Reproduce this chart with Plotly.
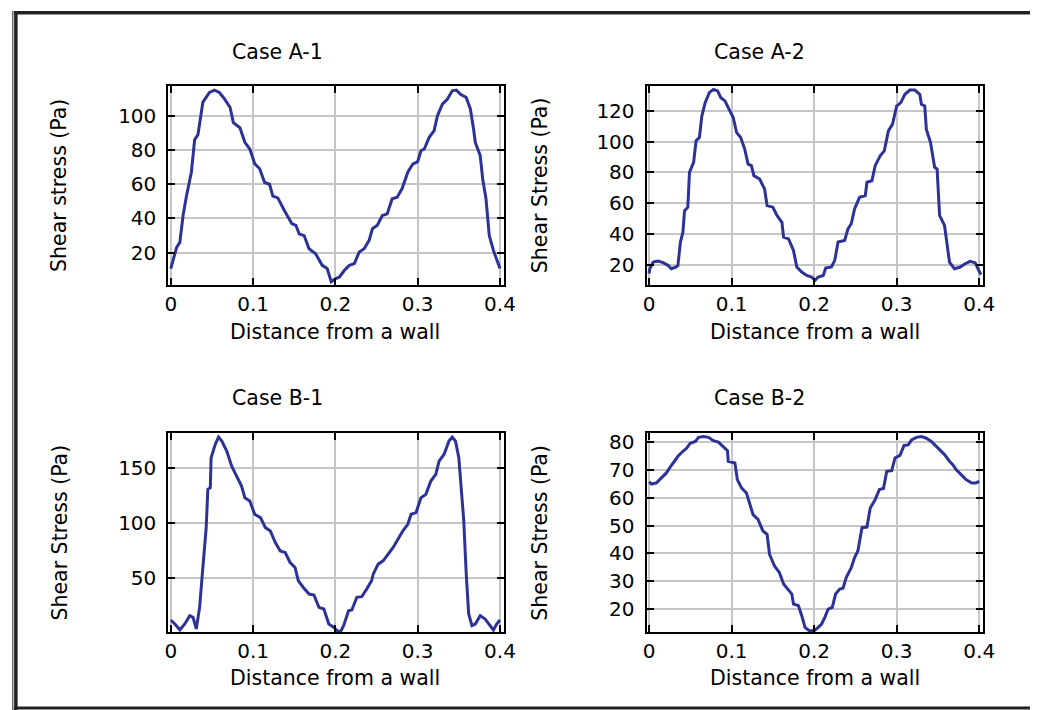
import plotly.graph_objects as go

# Figure size; the page body keeps the browser's default 8px margin.
W, H = 1038, 710
OFF = 8
# Measured mapping of page x to the captured picture: picture_x = SX * page_x + BX
SX, BX = 0.9882, 2.2

# ---------------- data ----------------
a1_x = [0, 0.003, 0.007, 0.011, 0.015, 0.019, 0.025, 0.029, 0.033, 0.039, 0.043, 0.047, 0.053, 0.059,
        0.065, 0.072, 0.076, 0.084, 0.090, 0.096, 0.102, 0.108, 0.114, 0.120, 0.124, 0.130, 0.138,
        0.147, 0.152, 0.156, 0.162, 0.168, 0.176, 0.184, 0.190, 0.195, 0.199, 0.205, 0.211, 0.217,
        0.223, 0.229, 0.235, 0.241, 0.245, 0.251, 0.257, 0.263, 0.269, 0.275, 0.281, 0.288, 0.294,
        0.300, 0.304, 0.308, 0.314, 0.320, 0.324, 0.330, 0.336, 0.342, 0.347, 0.352, 0.359, 0.364,
        0.368, 0.370, 0.376, 0.379, 0.383, 0.387, 0.392, 0.400]
a1_y = [10.7, 16.5, 23, 26, 42, 53, 67, 86, 89, 108, 111, 113.6, 115, 113.6,
        110, 105, 96, 93, 84.5, 80.6, 72, 69, 61, 60, 53, 52, 44.7,
        37, 36, 31, 30, 22.3, 19.4, 12.6, 10.7, 3, 4.5, 5.8, 9.7, 12.6,
        13.6, 20.4, 22.3, 27.2, 34, 36, 41.7, 42.7, 51.5, 52.4, 57.3, 67, 71.8,
        73.2, 79.6, 80.6, 87.4, 91.3, 100, 106.8, 109.7, 114.6, 115, 112.6, 110.7, 104,
        92, 84.5, 76.7, 63, 51.5, 30, 21.4, 10.7]

a2_x = [0, 0.001, 0.005, 0.011, 0.017, 0.023, 0.027, 0.033, 0.035, 0.038, 0.041, 0.043, 0.047, 0.049,
        0.054, 0.057, 0.061, 0.064, 0.068, 0.073, 0.078, 0.083, 0.087, 0.092, 0.097, 0.102, 0.106,
        0.111, 0.116, 0.120, 0.124, 0.127, 0.134, 0.140, 0.143, 0.150, 0.155, 0.161, 0.163, 0.169,
        0.175, 0.179, 0.185, 0.191, 0.197, 0.201, 0.205, 0.211, 0.214, 0.221, 0.225, 0.229, 0.237,
        0.241, 0.245, 0.249, 0.255, 0.262, 0.264, 0.270, 0.274, 0.280, 0.285, 0.290, 0.295, 0.300,
        0.305, 0.310, 0.316, 0.322, 0.328, 0.330, 0.334, 0.336, 0.341, 0.346, 0.349, 0.352, 0.358,
        0.364, 0.370, 0.377, 0.383, 0.389, 0.395, 0.400, 0.402]
a2_y = [14.2, 17.4, 21.7, 22.4, 21.3, 19.6, 17.4, 18.5, 19.6, 34.7, 41, 55, 57.4, 80,
        86.5, 100.6, 102.7, 116.8, 125.4, 131.9, 134, 133, 128.6, 126.5, 121, 115.7, 106,
        102.7, 95, 85.4, 84.4, 77.9, 75.7, 69.2, 58.4, 57.4, 52, 47.6, 37.9, 36.8,
        29.3, 18.5, 15.2, 13, 12, 9.8, 12, 13, 17.8, 18.5, 22.8, 34.7, 35.8,
        43.3, 46.6, 56.3, 63.8, 64.9, 73.6, 74.6, 84.4, 90.8, 94, 107, 111.4, 123.2,
        125.4, 130.8, 133.6, 133.6, 130.8, 124.3, 123.2, 108, 99.5, 83.3, 82.2, 52, 45.5,
        21.7, 17.4, 18.5, 20.6, 22.2, 21.3, 16.3, 13.5]

b1_x = [0, 0.005, 0.011, 0.017, 0.023, 0.027, 0.031, 0.035, 0.039, 0.043, 0.045, 0.048, 0.049, 0.054,
        0.058, 0.062, 0.068, 0.074, 0.078, 0.086, 0.090, 0.096, 0.102, 0.109, 0.115, 0.121, 0.127,
        0.133, 0.139, 0.145, 0.151, 0.155, 0.161, 0.168, 0.174, 0.180, 0.186, 0.192, 0.198, 0.202,
        0.206, 0.210, 0.216, 0.220, 0.226, 0.232, 0.238, 0.244, 0.246, 0.252, 0.258, 0.264, 0.270,
        0.276, 0.282, 0.288, 0.292, 0.298, 0.304, 0.310, 0.316, 0.322, 0.326, 0.332, 0.338, 0.342,
        0.346, 0.350, 0.353, 0.356, 0.359, 0.362, 0.366, 0.370, 0.376, 0.382, 0.388, 0.392, 0.396,
        0.400]
b1_y = [12.2, 8.6, 3.2, 8.6, 16.2, 14.7, 4.1, 23.7, 60, 96, 131, 132.5, 159.7, 171.8,
        178.4, 174.8, 165.7, 152.1, 146, 134, 123.4, 120.4, 108.3, 105.3, 96.2, 93.2, 82.6,
        75, 73.6, 64.5, 60, 47.9, 41.8, 35.8, 34.9, 23.7, 22.2, 8.6, 5.6, 2.6,
        1.1, 7.1, 20.7, 21.3, 32.8, 33.4, 40.3, 47.9, 53.9, 63, 66, 72, 78,
        85.6, 93.2, 99.2, 108.3, 109.8, 123.4, 126.4, 138.5, 144.6, 156.6, 162.7, 174.8, 178.4,
        174.8, 159.7, 129.5, 102.3, 54, 17.7, 7.1, 8.6, 16.2, 13.1, 7.1, 3.2, 8.6,
        12.2]

b2_x = [0, 0.003, 0.009, 0.015, 0.021, 0.025, 0.029, 0.035, 0.041, 0.045, 0.050, 0.056, 0.060, 0.066,
        0.072, 0.078, 0.084, 0.090, 0.095, 0.096, 0.104, 0.107, 0.112, 0.118, 0.122, 0.126, 0.132,
        0.138, 0.143, 0.146, 0.152, 0.158, 0.163, 0.169, 0.173, 0.175, 0.181, 0.185, 0.189, 0.194,
        0.200, 0.205, 0.209, 0.213, 0.217, 0.222, 0.226, 0.231, 0.235, 0.239, 0.245, 0.249, 0.253,
        0.258, 0.264, 0.268, 0.274, 0.279, 0.284, 0.288, 0.294, 0.298, 0.304, 0.309, 0.314, 0.318,
        0.324, 0.330, 0.336, 0.342, 0.348, 0.353, 0.358, 0.364, 0.368, 0.372, 0.378, 0.384, 0.391,
        0.396, 0.400]
b2_y = [65.8, 65, 65.4, 67.2, 69, 70.8, 72.6, 75, 76.8, 77.7, 79.7, 80.3, 81.8, 82.1,
        81.8, 80.6, 80.1, 78.5, 77, 73.2, 72.6, 66.6, 63.6, 61.8, 57.6, 54, 52.3,
        48.1, 46.9, 39.7, 35.5, 33.1, 29, 26.6, 25.4, 21.8, 21.2, 17.6, 13.4, 12.2,
        12.2, 13.4, 14.6, 17, 20, 20.6, 25.4, 27.2, 27.5, 31.4, 34.9, 38.5, 40.9,
        49.3, 49.5, 56.4, 59.4, 63, 63.4, 69.6, 69.8, 74.4, 75.3, 78.9, 79.1, 80.9,
        81.8, 82.1, 81.5, 80.3, 78.5, 77.3, 75.6, 73.2, 72, 70.2, 68.4, 66.6, 65.4,
        65.4, 66]

titles = ["Case A-1", "Case A-2", "Case B-1", "Case B-2"]
y_titles = ["Shear stress (Pa)", "Shear Stress (Pa)", "Shear Stress (Pa)", "Shear Stress (Pa)"]
x_title = "Distance from a wall"
x_ticks = [0, 0.1, 0.2, 0.3, 0.4]
x_ticktext = ["0", "0.1", "0.2", "0.3", "0.4"]
y_ticks = [[20, 40, 60, 80, 100], [20, 40, 60, 80, 100, 120], [50, 100, 150],
           [20, 30, 40, 50, 60, 70, 80]]
y_ranges = [[1.2, 117.6], [6.9, 136.4], [1.0, 182.0], [11.6, 83.3]]
x_range = [-0.003, 0.405]

series = [(a1_x, a1_y), (a2_x, a2_y), (b1_x, b1_y), (b2_x, b2_y)]

# ---------------- layout geometry (target picture pixels) ----------------
boxes = [  # left, right, top, bottom
    (167, 504, 83, 283),
    (647, 985, 83, 283),
    (167, 504, 432, 632),
    (647, 985, 432, 632),
]
title_pos = [(277, 49), (760, 49), (277, 397), (760, 397)]
xtitle_pos = [(334, 330), (816, 330), (334, 678), (816, 678)]
ytitle_pos = [(58, 183), (540, 183), (58, 532), (540, 532)]

def fx(px):
    page_x = (px - BX) / SX
    return (page_x - OFF) / W

def fy(py):
    return 1 - (py - OFF) / H

LINE = "#2d3296"
GRID = "#c6c6c6"
FONT = "DejaVu Sans"
TICK_SIZE = 20
TEXT_SIZE = 20.5

fig = go.Figure()
annotations = []
for i, ((xs, ys), (l, r, t, b)) in enumerate(zip(series, boxes)):
    n = "" if i == 0 else str(i + 1)
    fig.add_trace(go.Scatter(x=xs, y=ys, mode="lines", line=dict(color=LINE, width=3),
                             xaxis="x" + n, yaxis="y" + n, showlegend=False))
    common = dict(showline=True, linecolor="black", linewidth=2, mirror="ticks",
                  ticks="inside", ticklen=7, tickwidth=2, tickcolor="black",
                  showgrid=True, gridcolor=GRID, gridwidth=1.5, zeroline=False,
                  tickfont=dict(family=FONT, size=TICK_SIZE, color="black"), fixedrange=True)
    fig.update_layout(**{
        "xaxis" + n: dict(domain=[fx(l), fx(r)], range=x_range, anchor="y" + n,
                          tickvals=x_ticks, ticktext=x_ticktext, ticklabelstandoff=0, **common),
        "yaxis" + n: dict(domain=[fy(b), fy(t)], range=y_ranges[i], anchor="x" + n,
                          tickvals=y_ticks[i], ticklabelstandoff=6, **common),
    })
    tx, ty = title_pos[i]
    annotations.append(dict(text=titles[i], x=fx(tx), y=fy(ty), xref="paper", yref="paper",
                            showarrow=False, xanchor="center", yanchor="middle",
                            font=dict(family=FONT, size=TEXT_SIZE, color="black")))
    ax_, ay_ = xtitle_pos[i]
    annotations.append(dict(text=x_title, x=fx(ax_), y=fy(ay_), xref="paper", yref="paper",
                            showarrow=False, xanchor="center", yanchor="middle",
                            font=dict(family=FONT, size=TEXT_SIZE, color="black")))
    yx, yy = ytitle_pos[i]
    annotations.append(dict(text=y_titles[i], x=fx(yx), y=fy(yy), xref="paper", yref="paper",
                            showarrow=False, xanchor="center", yanchor="middle", textangle=-90,
                            font=dict(family=FONT, size=TEXT_SIZE, color="black")))

shapes = [
    dict(type="line", xref="paper", yref="paper", x0=0.75 / W, x1=0.75 / W, y0=1, y1=0,
         line=dict(color="#6e6e6e", width=1.5)),
    dict(type="line", xref="paper", yref="paper", x0=fx(14), x1=fx(14), y0=1, y1=0,
         line=dict(color="#222222", width=3.5)),
    dict(type="line", xref="paper", yref="paper", x0=fx(12), x1=1, y0=fy(9.75), y1=fy(9.75),
         line=dict(color="#222222", width=3.5)),
    dict(type="line", xref="paper", yref="paper", x0=fx(12), x1=1, y0=fy(708), y1=fy(708),
         line=dict(color="#222222", width=3)),
]

fig.update_layout(width=W, height=H, margin=dict(l=0, r=0, t=0, b=0),
                  paper_bgcolor="white", plot_bgcolor="white",
                  annotations=annotations, shapes=shapes,
                  font=dict(family=FONT, color="black"))

fig.write_html("out.html", config={"displayModeBar": False})
